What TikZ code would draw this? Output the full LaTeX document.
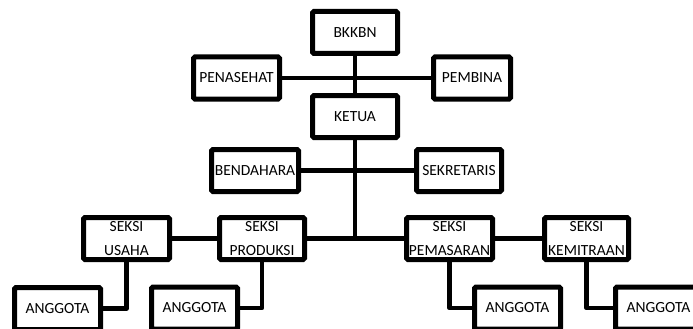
\documentclass[tikz,border=0pt]{standalone}
\usepackage{fontspec}
\setmainfont{Carlito}
\begin{document}
\begin{tikzpicture}[x=1pt,y=-1pt,
  box/.style={draw=black, fill=white, line width=5pt, rounded corners=1.5pt,
    minimum width=85pt, minimum height=42pt, inner sep=0pt, align=center,
    font=\fontsize{15.5}{24}\selectfont},
  conn/.style={draw=black, line width=4.5pt}]
\useasboundingbox (0,0) rectangle (693,329);
\clip (0,0) rectangle (693,329);
\node[box] (bkkbn) at (355,32.5) {BKKBN};
\node[box, minimum width=86pt] (penasehat) at (236.5,78) {PENASEHAT};
\node[box, minimum width=77pt] (pembina) at (472,78) {PEMBINA};
\node[box] (ketua) at (355,116.5) {KETUA};
\node[box, minimum width=87pt] (bendahara) at (255,170.5) {BENDAHARA};
\node[box] (sekretaris) at (459,170.5) {SEKRETARIS};
\node[box, minimum width=86pt] (usaha) at (126.5,238.5) {SEKSI\\USAHA};
\node[box] (produksi) at (262,238.5) {SEKSI\\PRODUKSI};
\node[box, minimum width=86pt] (pemasaran) at (449.5,238.5) {SEKSI\\PEMASARAN};
\node[box, minimum width=84pt] (kemitraan) at (586.5,238.5) {SEKSI\\KEMITRAAN};
\node[box, minimum width=86pt] (ang1) at (57.5,308.5) {ANGGOTA};
\node[box, minimum width=86pt] (ang2) at (194.5,308) {ANGGOTA};
\node[box, minimum width=86pt] (ang3) at (517.5,308) {ANGGOTA};
\node[box, minimum width=86pt] (ang4) at (658.5,308) {ANGGOTA};
\coordinate (hub) at (ketua.south |- produksi.east);
\draw[conn] (bkkbn) -- (ketua);
\draw[conn] (ketua.south) -- (hub);
\draw[conn] (penasehat) -- (pembina);
\draw[conn] (bendahara) -- (sekretaris);
\draw[conn] (produksi) -- (pemasaran);
\draw[conn] (usaha) -- (produksi);
\draw[conn] (pemasaran) -- (kemitraan);
\draw[conn, line join=round] (usaha.south) |- (ang1.east);
\draw[conn, line join=round] (produksi.south) |- (ang2.east);
\draw[conn, line join=round] (pemasaran.south) |- (ang3.west);
\draw[conn, line join=round] (kemitraan.south) |- (ang4.west);
\end{tikzpicture}
\end{document}
